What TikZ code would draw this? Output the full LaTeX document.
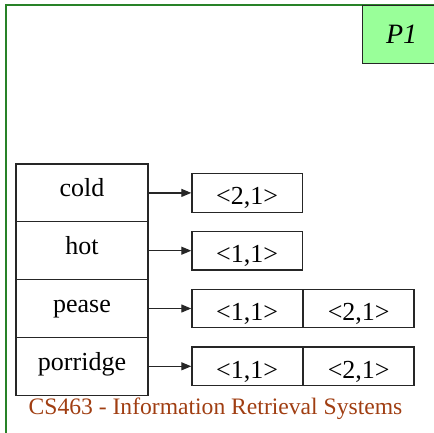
\documentclass[tikz,border=0pt]{standalone}
\usepackage{fontspec}
\setmainfont{Liberation Serif}
\usetikzlibrary{arrows.meta,positioning}

\definecolor{framegreen}{RGB}{40,130,40}
\definecolor{pgreen}{RGB}{153,255,153}
\definecolor{footbrown}{RGB}{160,62,18}

\tikzset{
  term/.style={draw=black!85, line width=1.2pt, minimum width=132pt, minimum height=57.8pt,
    inner sep=0pt, font=\fontsize{26}{30}\selectfont, text height=16pt, text depth=8.6pt},
  post/.style={draw=black!85, line width=1.2pt, minimum width=110.4pt, minimum height=38.6pt,
    inner sep=0pt, font=\fontsize{26}{30}\selectfont, text height=24pt, text depth=0pt},
  link/.style={draw=black!85, line width=1.2pt, -{Triangle[length=10pt,width=8pt]}}
}

\begin{document}
\begin{tikzpicture}[x=1pt,y=-1pt]
   \useasboundingbox (0,0) rectangle (434,432);

   %% Rahmen
   \draw[framegreen, line width=2pt] (5.5,450) |- (450,5);
   \node[draw=black!85, line width=1.2pt, fill=pgreen, anchor=north west, minimum width=78pt,
     minimum height=58pt, inner sep=0pt, font=\fontsize{28}{32}\itshape] (pone) at (362,5) {P1};

   %% Woerter
   \node[term] (cold) at (82,192.9) {cold};
   \node[term] (hot) at (82,250.7) {hot};
   \node[term] (pease) at (82,308.5) {pease};
   \node[term] (porridge) at (82,366.3) {porridge};

   %% Listen
   \node[post, anchor=west] (coldA) at (191.3,192.9) {<2,1>};
   \node[post, anchor=west] (hotA) at (191.3,250.7) {<1,1>};
   \node[post, anchor=west] (peaseA) at (191.3,308.5) {<1,1>};
   \node[post, right=0pt of peaseA] (peaseB) {<2,1>};
   \node[post, anchor=west] (porridgeA) at (191.3,366.3) {<1,1>};
   \node[post, right=0pt of porridgeA] (porridgeB) {<2,1>};

   %% Pfeile
   \draw[link] (cold) -- (coldA);
   \draw[link] (hot) -- (hotA);
   \draw[link] (pease) -- (peaseA);
   \draw[link] (porridge) -- (porridgeA);

   %% Fusszeile
   \node[anchor=base, inner sep=0pt, text=footbrown, font=\fontsize{23.6}{28}\selectfont] (foot)
     at (215.5,414) {CS463 - Information Retrieval Systems};
\end{tikzpicture}
\end{document}
